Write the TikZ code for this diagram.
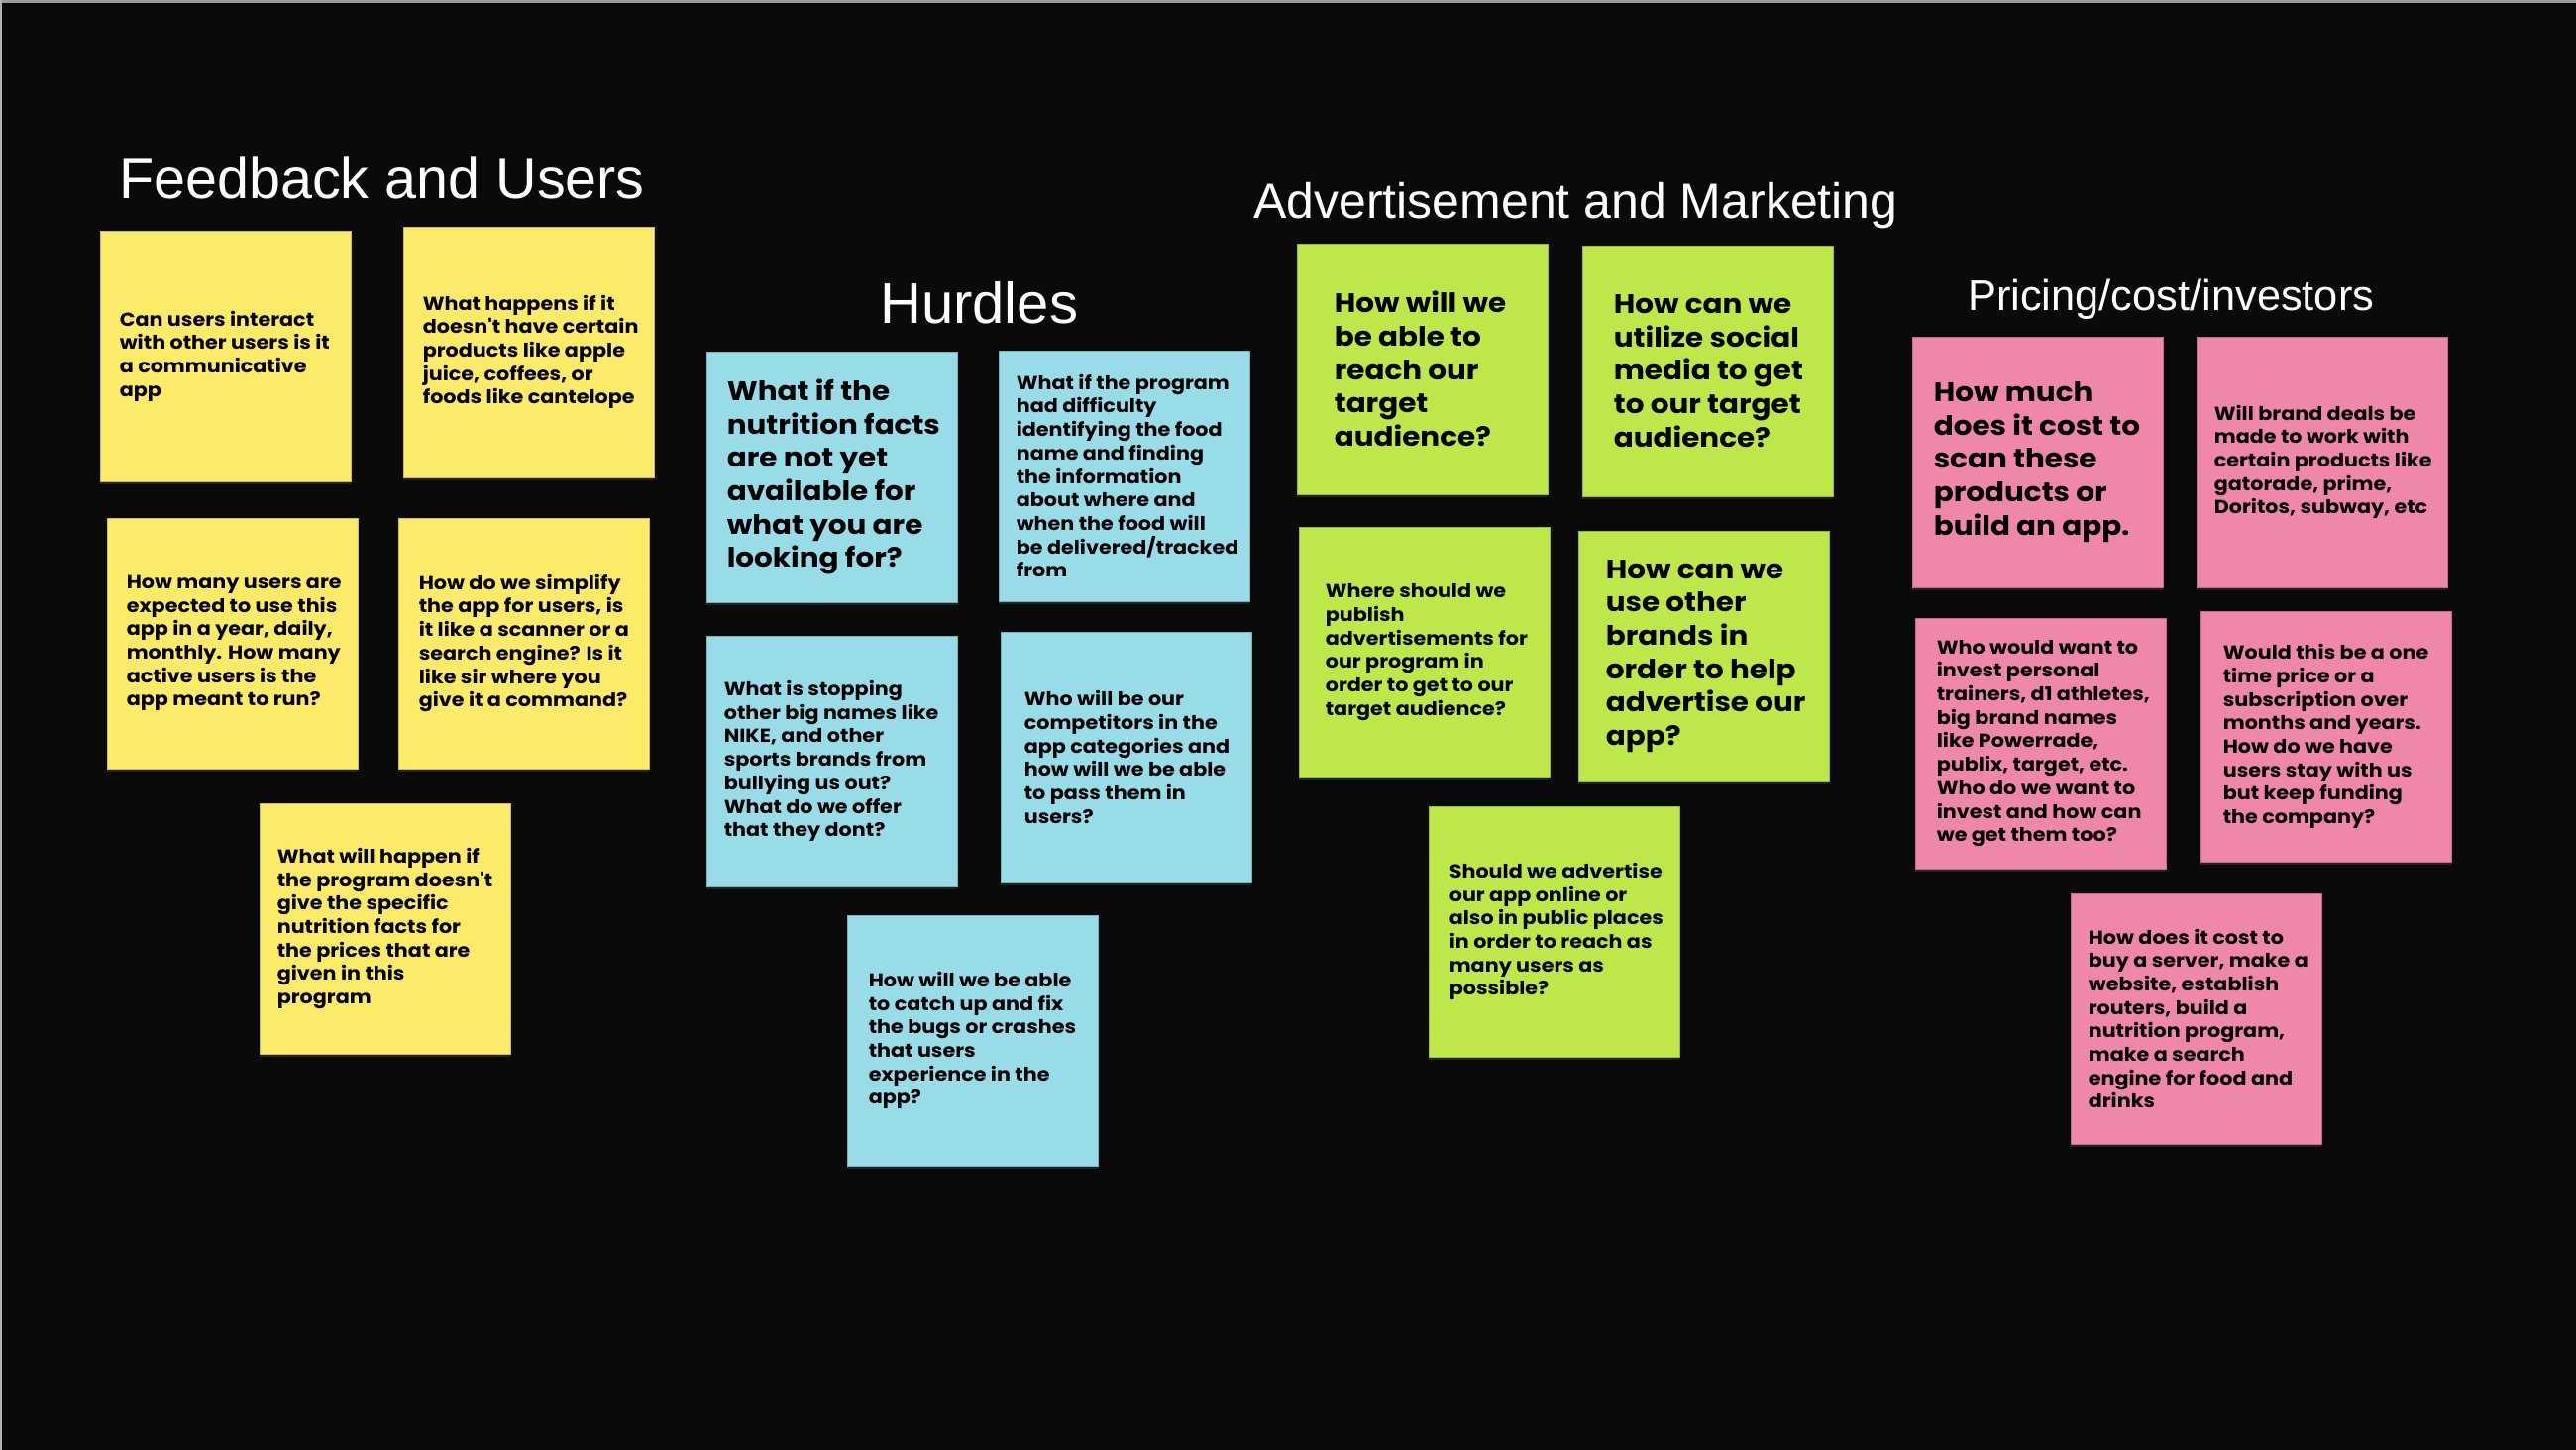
\documentclass[tikz,border=0pt]{standalone}
\usepackage{fontspec}
\usetikzlibrary{shadows}
\newfontfamily\notefont{Poppins}[FakeStretch=1.09]
\newfontfamily\headfont{Liberation Sans}
\definecolor{boardbg}{HTML}{0A0A0A}
\definecolor{noteyellow}{HTML}{FCEA69}
\definecolor{noteblue}{HTML}{98DCE8}
\definecolor{notegreen}{HTML}{BEE84A}
\definecolor{notepink}{HTML}{EF87AA}
\begin{document}
\begin{tikzpicture}[x=1pt,y=-1pt,
  note/.style={rectangle, minimum width=253pt, minimum height=253pt, inner sep=0pt,
    fill=#1, draw=#1!80!black, line width=0.8pt,
    drop shadow={shadow xshift=0pt, shadow yshift=-3pt, fill=white, opacity=0.10}},
  smalltext/.style={anchor=west, align=left, inner sep=0pt, text=black,
    font=\notefont\bfseries\fontsize{19}{23.7}\selectfont},
  bigtext/.style={anchor=west, align=left, inner sep=0pt, text=black,
    font=\notefont\bfseries\fontsize{27}{33.7}\selectfont},
  heading/.style={anchor=base west, inner sep=0pt, text=white}]

% board
\useasboundingbox (0,0) rectangle (2600,1464);
\fill[boardbg] (0,0) rectangle (2600,1464);
\fill[gray!80] (0,0) rectangle (2600,3);
\fill[gray!60] (0,0) rectangle (1.5,1464);

% ---------- Feedback and Users ----------
\node[heading, font=\headfont\fontsize{57.5}{60}\selectfont] (tfeed) at (120,200) {Feedback and Users};

\node[note=noteyellow] (f1) at (227.5,359.5) {};
\node[smalltext] (f1t) at ([xshift=20pt]f1.west) {Can users interact\\with other users is it\\a communicative\\app};

\node[note=noteyellow] (f2) at (533.5,355.5) {};
\node[smalltext] (f2t) at ([xshift=20pt]f2.west) {What happens if it\\doesn't have certain\\products like apple\\juice, coffees, or\\foods like cantelope};

\node[note=noteyellow] (f3) at (234.5,649.5) {};
\node[smalltext] (f3t) at ([xshift=20pt]f3.west) {How many users are\\expected to use this\\app in a year, daily,\\monthly. How many\\active users is the\\app meant to run?};

\node[note=noteyellow] (f4) at (528.5,649.5) {};
\node[smalltext] (f4t) at ([xshift=21pt]f4.west) {How do we simplify\\the app for users, is\\it like a scanner or a\\search engine? Is it\\like sir where you\\give it a command?};

\node[note=noteyellow] (f5) at (388.5,937.5) {};
\node[smalltext] (f5t) at ([xshift=18pt]f5.west) {What will happen if\\the program doesn't\\give the specific\\nutrition facts for\\the prices that are\\given in this\\program};

% ---------- Hurdles ----------
\node[heading, font=\headfont\fontsize{58}{60}\selectfont] (thurdle) at (888,326) {Hurdles};

\node[note=noteblue] (h1) at (839.5,481.5) {};
\node[bigtext] (h1t) at ([xshift=21pt]h1.west) {What if the\\nutrition facts\\are not yet\\available for\\what you are\\looking for?};

\node[note=noteblue] (h2) at (1134.5,480.5) {};
\node[smalltext] (h2t) at ([xshift=18pt]h2.west) {What if the program\\had difficulty\\identifying the food\\name and finding\\the information\\about where and\\when the food will\\be delivered/tracked\\from};

\node[note=noteblue] (h3) at (839.5,768.5) {};
\node[smalltext] (h3t) at ([xshift=18pt]h3.west) {What is stopping\\other big names like\\NIKE, and other\\sports brands from\\bullying us out?\\What do we offer\\that they dont?};

\node[note=noteblue] (h4) at (1136.5,764.5) {};
\node[smalltext] (h4t) at ([xshift=24pt]h4.west) {Who will be our\\competitors in the\\app categories and\\how will we be able\\to pass them in\\users?};

\node[note=noteblue] (h5) at (981.5,1050.5) {};
\node[smalltext] (h5t) at ([xshift=22pt]h5.west) {How will we be able\\to catch up and fix\\the bugs or crashes\\that users\\experience in the\\app?};

% ---------- Advertisement and Marketing ----------
\node[heading, font=\headfont\fontsize{50}{54}\selectfont] (tadvert) at (1265,220) {Advertisement and Marketing};

\node[note=notegreen] (a1) at (1435.5,372.5) {};
\node[bigtext] (a1t) at ([xshift=38pt]a1.west) {How will we\\be able to\\reach our\\target\\audience?};

\node[note=notegreen] (a2) at (1723.5,374.5) {};
\node[bigtext] (a2t) at ([xshift=32pt]a2.west) {How can we\\utilize social\\media to get\\to our target\\audience?};

\node[note=notegreen] (a3) at (1437.5,658.5) {};
\node[smalltext] (a3t) at ([xshift=27pt]a3.west) {Where should we\\publish\\advertisements for\\our program in\\order to get to our\\target audience?};

\node[note=notegreen] (a4) at (1719.5,662.5) {};
\node[bigtext] (a4t) at ([xshift=28pt]a4.west) {How can we\\use other\\brands in\\order to help\\advertise our\\app?};

\node[note=notegreen] (a5) at (1568.5,940.5) {};
\node[smalltext] (a5t) at ([xshift=21pt]a5.west) {Should we advertise\\our app online or\\also in public places\\in order to reach as\\many users as\\possible?};

% ---------- Pricing/cost/investors ----------
\node[heading, font=\headfont\fontsize{43.4}{46}\selectfont] (tprice) at (1986,313) {Pricing/cost/investors};

\node[note=notepink] (p1) at (2056.5,466.5) {};
\node[bigtext] (p1t) at ([xshift=22pt]p1.west) {How much\\does it cost to\\scan these\\products or\\build an app.};

\node[note=notepink] (p2) at (2343.5,466.5) {};
\node[smalltext] (p2t) at ([xshift=18pt]p2.west) {Will brand deals be\\made to work with\\certain products like\\gatorade, prime,\\Doritos, subway, etc};

\node[note=notepink] (p3) at (2059.5,750.5) {};
\node[smalltext] (p3t) at ([xshift=22pt]p3.west) {Who would want to\\invest personal\\trainers, d1 athletes,\\big brand names\\like Powerrade,\\publix, target, etc.\\Who do we want to\\invest and how can\\we get them too?};

\node[note=notepink] (p4) at (2347.5,743.5) {};
\node[smalltext] (p4t) at ([xshift=23pt]p4.west) {Would this be a one\\time price or a\\subscription over\\months and years.\\How do we have\\users stay with us\\but keep funding\\the company?};

\node[note=notepink] (p5) at (2216.5,1028.5) {};
\node[smalltext] (p5t) at ([xshift=18pt]p5.west) {How does it cost to\\buy a server, make a\\website, establish\\routers, build a\\nutrition program,\\make a search\\engine for food and\\drinks};

\end{tikzpicture}
\end{document}
